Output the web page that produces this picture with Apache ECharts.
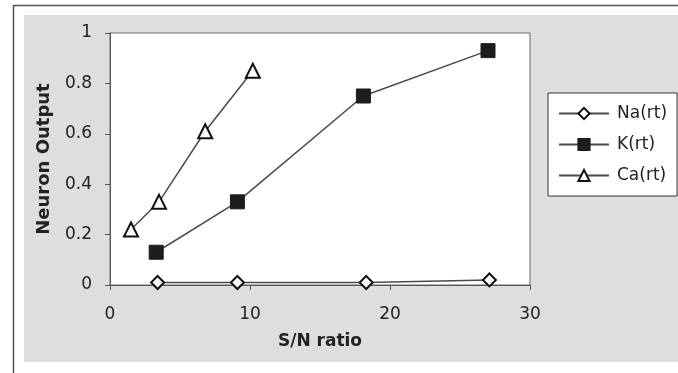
<!DOCTYPE html>
<html>
<head>
<meta charset="utf-8">
<script src="https://cdn.jsdelivr.net/npm/echarts@6/dist/echarts.min.js"></script>
<style>
html,body{margin:0;padding:0;background:#fff;}
#chart{width:678px;height:373px;}
</style>
</head>
<body>
<div id="chart"></div>
<script>
// Neuron output against signal-to-noise ratio for three ion channels
const naX = [3.4, 9.1, 18.3, 27.1];
const naY = [0.01, 0.01, 0.01, 0.02];
const kX = [3.3, 9.1, 18.1, 27.0];
const kY = [0.13, 0.33, 0.75, 0.93];
const caX = [1.5, 3.5, 6.8, 10.2];
const caY = [0.22, 0.33, 0.61, 0.85];
const seriesNames = ['Na(rt)', 'K(rt)', 'Ca(rt)'];

const pairs = (xs, ys) => xs.map((x, i) => [x, ys[i]]);
const FONT = '"DejaVu Sans", Verdana, sans-serif';

const chart = echarts.init(document.getElementById('chart'));
const lineStyle = { color: '#4a4a4a', width: 1.5 };

chart.setOption({
  backgroundColor: '#ffffff',
  animation: false,
  graphic: [
    { type: 'rect', shape: { x: 24, y: 15, width: 660, height: 347 }, style: { fill: '#dedede' }, z: -10 },
    { type: 'line', shape: { x1: 13.5, y1: 5, x2: 13.5, y2: 373 }, style: { stroke: '#555', lineWidth: 1.5 }, z: -5 },
    { type: 'line', shape: { x1: 13, y1: 5.5, x2: 678, y2: 5.5 }, style: { stroke: '#555', lineWidth: 1.5 }, z: -5 }
  ],
  grid: {
    left: 110, top: 33, width: 420, height: 252,
    show: true, backgroundColor: '#ffffff', borderColor: '#666', borderWidth: 1
  },
  xAxis: {
    type: 'value', min: 0, max: 30, interval: 10,
    name: 'S/N ratio', nameLocation: 'middle', nameGap: 48,
    nameTextStyle: { fontFamily: FONT, fontSize: 17, fontWeight: 'bold', color: '#222' },
    axisLine: { lineStyle: { color: '#555', width: 1 } },
    axisTick: { show: true, length: 5, lineStyle: { color: '#555' } },
    axisLabel: { fontFamily: FONT, fontSize: 17, color: '#222', margin: 21 },
    splitLine: { show: false }
  },
  yAxis: {
    type: 'value', min: 0, max: 1, interval: 0.2,
    name: 'Neuron Output', nameLocation: 'middle', nameGap: 57,
    nameTextStyle: { fontFamily: FONT, fontSize: 18, fontWeight: 'bold', color: '#222' },
    axisLine: { show: true, lineStyle: { color: '#555', width: 1 } },
    axisTick: { show: true, length: 5, lineStyle: { color: '#555' } },
    axisLabel: { fontFamily: FONT, fontSize: 17, color: '#222', margin: 18 },
    splitLine: { show: false }
  },
  legend: {
    orient: 'vertical',
    left: 548, top: 93,
    itemWidth: 50, itemHeight: 14, itemGap: 14,
    padding: [12, 10, 12, 10],
    backgroundColor: '#ffffff',
    borderColor: '#333', borderWidth: 1,
    textStyle: { fontFamily: FONT, fontSize: 17, color: '#222', padding: [0, 0, 0, 3] },
    data: seriesNames
  },
  series: [
    {
      name: seriesNames[0], type: 'line', data: pairs(naX, naY),
      symbol: 'diamond', symbolSize: 13,
      itemStyle: { color: '#ffffff', borderColor: '#111', borderWidth: 2 },
      lineStyle: lineStyle
    },
    {
      name: seriesNames[1], type: 'line', data: pairs(kX, kY),
      symbol: 'rect', symbolSize: 14,
      itemStyle: { color: '#1c1c1c', borderColor: '#1c1c1c', borderWidth: 1 },
      lineStyle: lineStyle
    },
    {
      name: seriesNames[2], type: 'line', data: pairs(caX, caY),
      symbol: 'triangle', symbolSize: 14,
      itemStyle: { color: '#ffffff', borderColor: '#111', borderWidth: 2 },
      lineStyle: lineStyle
    }
  ]
});
</script>
</body>
</html>
